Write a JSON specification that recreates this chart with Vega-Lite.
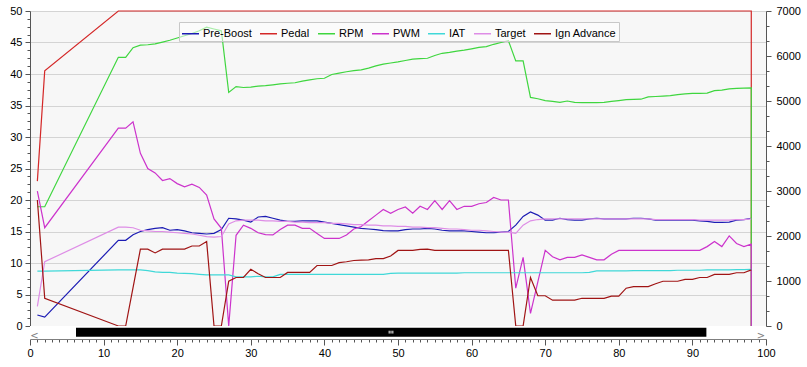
{
  "$schema": "https://vega.github.io/schema/vega-lite/v6.json",
  "width": 736,
  "height": 315,
  "autosize": {"type": "none"},
  "padding": {"left": 30, "top": 11, "right": 41, "bottom": 41},
  "background": "white",
  "config": {
    "view": {"fill": "#f7f7f7", "stroke": null},
    "font": "Liberation Sans",
    "axis": {"labelFont": "Liberation Sans", "labelFontSize": 11, "labelColor": "#000000", "domainColor": "#555555", "tickColor": "#555555", "labelOverlap": false, "labelBound": false, "labelFlush": false},
    "legend": {
      "orient": "none", "legendX": 149, "legendY": 11, "direction": "horizontal", "columns": 7,
      "symbolType": "stroke", "symbolSize": 289, "symbolStrokeWidth": 1.5,
      "labelFont": "Liberation Sans", "labelFontSize": 11, "labelColor": "#000000", "labelOffset": 3,
      "columnPadding": 5, "padding": 2, "fillColor": "rgba(255,255,255,0.55)", "strokeColor": "#c8c8c8", "cornerRadius": 0
    }
  },
  "data": {"values": [
    {"x":1,"Pre-Boost":1.75,"Pedal":23,"RPM":2650,"PWM":21.4,"IAT":8.7,"Target":3.1,"Ign Advance":20},
    {"x":2,"Pre-Boost":1.4,"Pedal":40.5,"RPM":2650,"PWM":15.6,"IAT":8.7,"Target":10.2,"Ign Advance":4.4},
    {"x":12,"Pre-Boost":13.6,"Pedal":50,"RPM":5970,"PWM":31.4,"IAT":8.9,"Target":15.7,"Ign Advance":0},
    {"x":13,"Pre-Boost":13.6,"Pedal":50,"RPM":5970,"PWM":31.4,"IAT":8.9,"Target":15.7,"Ign Advance":0},
    {"x":14,"Pre-Boost":14.5,"Pedal":50,"RPM":6185,"PWM":32.4,"IAT":8.9,"Target":15.6,"Ign Advance":6.1},
    {"x":15,"Pre-Boost":15.0,"Pedal":50,"RPM":6240,"PWM":27.4,"IAT":8.9,"Target":15.2,"Ign Advance":12.2},
    {"x":16,"Pre-Boost":15.3,"Pedal":50,"RPM":6250,"PWM":25.0,"IAT":8.8,"Target":15.1,"Ign Advance":12.2},
    {"x":17,"Pre-Boost":15.5,"Pedal":50,"RPM":6270,"PWM":24.3,"IAT":8.6,"Target":15.0,"Ign Advance":11.6},
    {"x":18,"Pre-Boost":15.6,"Pedal":50,"RPM":6310,"PWM":23.1,"IAT":8.5,"Target":15.0,"Ign Advance":12.2},
    {"x":19,"Pre-Boost":15.2,"Pedal":50,"RPM":6350,"PWM":23.4,"IAT":8.5,"Target":14.9,"Ign Advance":12.2},
    {"x":20,"Pre-Boost":15.3,"Pedal":50,"RPM":6400,"PWM":22.6,"IAT":8.4,"Target":14.8,"Ign Advance":12.2},
    {"x":21,"Pre-Boost":15.1,"Pedal":50,"RPM":6450,"PWM":22.1,"IAT":8.35,"Target":14.7,"Ign Advance":12.2},
    {"x":22,"Pre-Boost":14.8,"Pedal":50,"RPM":6500,"PWM":22.5,"IAT":8.3,"Target":14.6,"Ign Advance":12.7},
    {"x":23,"Pre-Boost":14.7,"Pedal":50,"RPM":6560,"PWM":22.0,"IAT":8.2,"Target":14.4,"Ign Advance":12.7},
    {"x":24,"Pre-Boost":14.6,"Pedal":50,"RPM":6640,"PWM":20.8,"IAT":8.1,"Target":14.2,"Ign Advance":13.4},
    {"x":25,"Pre-Boost":14.7,"Pedal":50,"RPM":6600,"PWM":17.0,"IAT":8.1,"Target":14.1,"Ign Advance":0},
    {"x":26,"Pre-Boost":15.3,"Pedal":50,"RPM":6560,"PWM":15.5,"IAT":8.1,"Target":14.2,"Ign Advance":0},
    {"x":27,"Pre-Boost":17.1,"Pedal":50,"RPM":5190,"PWM":0,"IAT":8.1,"Target":16.2,"Ign Advance":7.1},
    {"x":28,"Pre-Boost":17.0,"Pedal":50,"RPM":5320,"PWM":14.4,"IAT":7.8,"Target":16.7,"Ign Advance":7.7},
    {"x":29,"Pre-Boost":16.8,"Pedal":50,"RPM":5300,"PWM":16.0,"IAT":7.8,"Target":16.8,"Ign Advance":7.7},
    {"x":30,"Pre-Boost":16.5,"Pedal":50,"RPM":5310,"PWM":15.5,"IAT":7.8,"Target":16.8,"Ign Advance":9.0},
    {"x":31,"Pre-Boost":17.3,"Pedal":50,"RPM":5330,"PWM":14.8,"IAT":7.9,"Target":16.8,"Ign Advance":8.3},
    {"x":32,"Pre-Boost":17.4,"Pedal":50,"RPM":5340,"PWM":14.5,"IAT":7.8,"Target":16.7,"Ign Advance":7.7},
    {"x":33,"Pre-Boost":17.1,"Pedal":50,"RPM":5360,"PWM":14.45,"IAT":7.8,"Target":16.7,"Ign Advance":7.7},
    {"x":34,"Pre-Boost":16.8,"Pedal":50,"RPM":5380,"PWM":15.3,"IAT":8.2,"Target":16.6,"Ign Advance":7.7},
    {"x":35,"Pre-Boost":16.6,"Pedal":50,"RPM":5395,"PWM":16.0,"IAT":8.2,"Target":16.6,"Ign Advance":8.5},
    {"x":36,"Pre-Boost":16.6,"Pedal":50,"RPM":5405,"PWM":16.0,"IAT":8.2,"Target":16.5,"Ign Advance":8.5},
    {"x":37,"Pre-Boost":16.7,"Pedal":50,"RPM":5440,"PWM":15.5,"IAT":8.2,"Target":16.5,"Ign Advance":8.5},
    {"x":38,"Pre-Boost":16.7,"Pedal":50,"RPM":5470,"PWM":15.5,"IAT":8.2,"Target":16.4,"Ign Advance":8.5},
    {"x":39,"Pre-Boost":16.7,"Pedal":50,"RPM":5495,"PWM":14.7,"IAT":8.2,"Target":16.4,"Ign Advance":9.6},
    {"x":40,"Pre-Boost":16.5,"Pedal":50,"RPM":5505,"PWM":13.9,"IAT":8.2,"Target":16.4,"Ign Advance":9.6},
    {"x":41,"Pre-Boost":16.3,"Pedal":50,"RPM":5590,"PWM":13.9,"IAT":8.2,"Target":16.3,"Ign Advance":9.6},
    {"x":42,"Pre-Boost":16.1,"Pedal":50,"RPM":5620,"PWM":13.9,"IAT":8.2,"Target":16.3,"Ign Advance":10.05},
    {"x":43,"Pre-Boost":15.9,"Pedal":50,"RPM":5650,"PWM":14.45,"IAT":8.2,"Target":16.2,"Ign Advance":10.2},
    {"x":44,"Pre-Boost":15.7,"Pedal":50,"RPM":5675,"PWM":15.4,"IAT":8.2,"Target":16.1,"Ign Advance":10.4},
    {"x":45,"Pre-Boost":15.5,"Pedal":50,"RPM":5690,"PWM":15.8,"IAT":8.2,"Target":16.1,"Ign Advance":10.45},
    {"x":46,"Pre-Boost":15.4,"Pedal":50,"RPM":5730,"PWM":16.7,"IAT":8.2,"Target":16.0,"Ign Advance":10.5},
    {"x":47,"Pre-Boost":15.3,"Pedal":50,"RPM":5780,"PWM":17.6,"IAT":8.2,"Target":16.0,"Ign Advance":10.7},
    {"x":48,"Pre-Boost":15.15,"Pedal":50,"RPM":5820,"PWM":18.5,"IAT":8.2,"Target":15.9,"Ign Advance":10.7},
    {"x":49,"Pre-Boost":15.1,"Pedal":50,"RPM":5845,"PWM":17.9,"IAT":8.35,"Target":15.9,"Ign Advance":11.1},
    {"x":50,"Pre-Boost":15.1,"Pedal":50,"RPM":5870,"PWM":18.5,"IAT":8.4,"Target":15.8,"Ign Advance":12.0},
    {"x":51,"Pre-Boost":15.3,"Pedal":50,"RPM":5900,"PWM":18.9,"IAT":8.4,"Target":15.8,"Ign Advance":12.0},
    {"x":52,"Pre-Boost":15.4,"Pedal":50,"RPM":5930,"PWM":17.9,"IAT":8.4,"Target":15.7,"Ign Advance":12.0},
    {"x":53,"Pre-Boost":15.4,"Pedal":50,"RPM":5940,"PWM":19.0,"IAT":8.4,"Target":15.7,"Ign Advance":12.15},
    {"x":54,"Pre-Boost":15.5,"Pedal":50,"RPM":5950,"PWM":18.5,"IAT":8.4,"Target":15.6,"Ign Advance":12.2},
    {"x":55,"Pre-Boost":15.4,"Pedal":50,"RPM":6010,"PWM":19.9,"IAT":8.4,"Target":15.6,"Ign Advance":12.0},
    {"x":56,"Pre-Boost":15.2,"Pedal":50,"RPM":6060,"PWM":18.5,"IAT":8.4,"Target":15.5,"Ign Advance":12.0},
    {"x":57,"Pre-Boost":15.1,"Pedal":50,"RPM":6080,"PWM":19.9,"IAT":8.4,"Target":15.4,"Ign Advance":12.0},
    {"x":58,"Pre-Boost":15.1,"Pedal":50,"RPM":6110,"PWM":18.5,"IAT":8.4,"Target":15.4,"Ign Advance":12.0},
    {"x":59,"Pre-Boost":15.1,"Pedal":50,"RPM":6130,"PWM":19.0,"IAT":8.45,"Target":15.3,"Ign Advance":12.0},
    {"x":60,"Pre-Boost":15.0,"Pedal":50,"RPM":6160,"PWM":19.0,"IAT":8.45,"Target":15.2,"Ign Advance":12.0},
    {"x":61,"Pre-Boost":14.9,"Pedal":50,"RPM":6190,"PWM":19.4,"IAT":8.45,"Target":15.2,"Ign Advance":12.0},
    {"x":62,"Pre-Boost":14.8,"Pedal":50,"RPM":6210,"PWM":19.6,"IAT":8.45,"Target":15.1,"Ign Advance":12.0},
    {"x":63,"Pre-Boost":14.8,"Pedal":50,"RPM":6260,"PWM":20.4,"IAT":8.45,"Target":15.0,"Ign Advance":12.0},
    {"x":64,"Pre-Boost":14.9,"Pedal":50,"RPM":6300,"PWM":20.0,"IAT":8.45,"Target":14.9,"Ign Advance":12.0},
    {"x":65,"Pre-Boost":15.0,"Pedal":50,"RPM":6340,"PWM":20.0,"IAT":8.45,"Target":14.9,"Ign Advance":12.0},
    {"x":66,"Pre-Boost":16.0,"Pedal":50,"RPM":5890,"PWM":6.0,"IAT":8.45,"Target":14.7,"Ign Advance":0},
    {"x":67,"Pre-Boost":17.4,"Pedal":50,"RPM":5890,"PWM":10.9,"IAT":8.45,"Target":16.0,"Ign Advance":0},
    {"x":68,"Pre-Boost":18.1,"Pedal":50,"RPM":5080,"PWM":2.0,"IAT":8.45,"Target":16.7,"Ign Advance":7.7},
    {"x":69,"Pre-Boost":17.6,"Pedal":50,"RPM":5050,"PWM":7.0,"IAT":8.45,"Target":16.9,"Ign Advance":4.8},
    {"x":70,"Pre-Boost":16.8,"Pedal":50,"RPM":5010,"PWM":12.0,"IAT":8.45,"Target":17.0,"Ign Advance":4.8},
    {"x":71,"Pre-Boost":16.8,"Pedal":50,"RPM":4990,"PWM":11.0,"IAT":8.45,"Target":17.0,"Ign Advance":4.1},
    {"x":72,"Pre-Boost":17.1,"Pedal":50,"RPM":4970,"PWM":10.5,"IAT":8.45,"Target":17.0,"Ign Advance":4.1},
    {"x":73,"Pre-Boost":16.9,"Pedal":50,"RPM":5000,"PWM":10.9,"IAT":8.45,"Target":17.0,"Ign Advance":4.1},
    {"x":74,"Pre-Boost":16.8,"Pedal":50,"RPM":4970,"PWM":10.9,"IAT":8.45,"Target":17.0,"Ign Advance":4.1},
    {"x":75,"Pre-Boost":16.8,"Pedal":50,"RPM":4965,"PWM":11.3,"IAT":8.45,"Target":17.0,"Ign Advance":4.4},
    {"x":76,"Pre-Boost":17.0,"Pedal":50,"RPM":4965,"PWM":10.9,"IAT":8.5,"Target":17.0,"Ign Advance":4.4},
    {"x":77,"Pre-Boost":17.1,"Pedal":50,"RPM":4965,"PWM":10.5,"IAT":8.75,"Target":17.0,"Ign Advance":4.4},
    {"x":78,"Pre-Boost":17.0,"Pedal":50,"RPM":4970,"PWM":10.5,"IAT":8.75,"Target":17.0,"Ign Advance":4.4},
    {"x":79,"Pre-Boost":17.0,"Pedal":50,"RPM":4990,"PWM":11.4,"IAT":8.75,"Target":17.0,"Ign Advance":4.75},
    {"x":80,"Pre-Boost":17.0,"Pedal":50,"RPM":5010,"PWM":12.0,"IAT":8.75,"Target":17.0,"Ign Advance":4.75},
    {"x":81,"Pre-Boost":17.0,"Pedal":50,"RPM":5030,"PWM":12.0,"IAT":8.75,"Target":17.0,"Ign Advance":6.0},
    {"x":82,"Pre-Boost":17.1,"Pedal":50,"RPM":5035,"PWM":12.0,"IAT":8.8,"Target":17.0,"Ign Advance":6.25},
    {"x":83,"Pre-Boost":17.1,"Pedal":50,"RPM":5040,"PWM":12.0,"IAT":8.8,"Target":17.0,"Ign Advance":6.25},
    {"x":84,"Pre-Boost":17.0,"Pedal":50,"RPM":5090,"PWM":12.0,"IAT":8.8,"Target":17.0,"Ign Advance":6.25},
    {"x":85,"Pre-Boost":16.8,"Pedal":50,"RPM":5100,"PWM":12.0,"IAT":8.8,"Target":16.9,"Ign Advance":6.7},
    {"x":86,"Pre-Boost":16.8,"Pedal":50,"RPM":5110,"PWM":12.0,"IAT":8.8,"Target":16.9,"Ign Advance":7.1},
    {"x":87,"Pre-Boost":16.8,"Pedal":50,"RPM":5120,"PWM":12.0,"IAT":8.8,"Target":16.9,"Ign Advance":7.1},
    {"x":88,"Pre-Boost":16.8,"Pedal":50,"RPM":5140,"PWM":12.0,"IAT":8.85,"Target":16.9,"Ign Advance":7.1},
    {"x":89,"Pre-Boost":16.8,"Pedal":50,"RPM":5160,"PWM":12.0,"IAT":8.85,"Target":16.9,"Ign Advance":7.4},
    {"x":90,"Pre-Boost":16.8,"Pedal":50,"RPM":5170,"PWM":12.0,"IAT":8.85,"Target":16.9,"Ign Advance":7.4},
    {"x":91,"Pre-Boost":16.7,"Pedal":50,"RPM":5170,"PWM":12.0,"IAT":8.85,"Target":16.8,"Ign Advance":7.7},
    {"x":92,"Pre-Boost":16.6,"Pedal":50,"RPM":5175,"PWM":12.6,"IAT":8.9,"Target":16.8,"Ign Advance":7.7},
    {"x":93,"Pre-Boost":16.45,"Pedal":50,"RPM":5230,"PWM":13.4,"IAT":8.9,"Target":16.8,"Ign Advance":8.2},
    {"x":94,"Pre-Boost":16.45,"Pedal":50,"RPM":5240,"PWM":12.6,"IAT":8.9,"Target":16.8,"Ign Advance":8.2},
    {"x":95,"Pre-Boost":16.5,"Pedal":50,"RPM":5270,"PWM":14.3,"IAT":8.9,"Target":16.8,"Ign Advance":8.2},
    {"x":96,"Pre-Boost":16.8,"Pedal":50,"RPM":5280,"PWM":13.1,"IAT":8.95,"Target":16.9,"Ign Advance":8.45},
    {"x":97,"Pre-Boost":16.9,"Pedal":50,"RPM":5285,"PWM":12.6,"IAT":8.95,"Target":16.9,"Ign Advance":8.45},
    {"x":98,"Pre-Boost":17.1,"Pedal":50,"RPM":5290,"PWM":13.0,"IAT":9.0,"Target":17.0,"Ign Advance":8.9},
    {"x":98,"Pedal":0,"RPM":0,"PWM":0}
  ]},
  "transform": [
    {"fold": ["Pre-Boost","Pedal","RPM","PWM","IAT","Target","Ign Advance"], "as": ["k","v"]},
    {"filter": "isValid(datum.v)"}
  ],
  "encoding": {
    "x": {"field": "x", "type": "quantitative", "title": null, "scale": {"domain": [0,100], "nice": false},
      "axis": {"orient": "bottom", "offset": 13, "grid": false, "labelOverlap": false, "labelFlush": false, "labelBound": false,
        "values": [0,1,2,3,4,5,6,7,8,9,10,11,12,13,14,15,16,17,18,19,20,21,22,23,24,25,26,27,28,29,30,31,32,33,34,35,36,37,38,39,40,41,42,43,44,45,46,47,48,49,50,51,52,53,54,55,56,57,58,59,60,61,62,63,64,65,66,67,68,69,70,71,72,73,74,75,76,77,78,79,80,81,82,83,84,85,86,87,88,89,90,91,92,93,94,95,96,97,98,99,100],
        "labelExpr": "datum.value % 10 === 0 ? datum.label : ''",
        "tickSize": {"condition": {"test": "datum.value % 10 === 0", "value": 6}, "value": 3},
        "labelPadding": 2}}
  },
  "layer": [
    {
      "transform": [{"filter": "datum.k === 'Pre-Boost' || datum.k === 'Pedal'"}],
      "mark": {"type": "line", "strokeWidth": 1.2},
      "encoding": {
        "y": {"field": "v", "type": "quantitative", "title": null, "scale": {"domain": [0,50], "nice": false, "zero": false},
          "axis": {"orient": "left", "grid": true, "gridColor": "#d4d4d4", "labelOverlap": false,
            "values": [0,1.25,2.5,3.75,5,6.25,7.5,8.75,10,11.25,12.5,13.75,15,16.25,17.5,18.75,20,21.25,22.5,23.75,25,26.25,27.5,28.75,30,31.25,32.5,33.75,35,36.25,37.5,38.75,40,41.25,42.5,43.75,45,46.25,47.5,48.75,50],
            "labelExpr": "datum.value % 5 === 0 ? datum.label : ''",
            "gridOpacity": {"condition": {"test": "datum.value % 5 === 0", "value": 1}, "value": 0},
            "tickSize": {"condition": {"test": "datum.value % 5 === 0", "value": 5}, "value": 3},
            "labelPadding": 3}},
        "color": {"field": "k", "type": "nominal", "title": null,
          "scale": {"domain": ["Pre-Boost","Pedal","RPM","PWM","IAT","Target","Ign Advance"], "range": ["#1c1cb4","#d42828","#3fd63f","#cc33cc","#40d8d8","#de8de6","#a01414"]}}
      }
    },
    {
      "transform": [{"filter": "datum.k === 'RPM'"}],
      "mark": {"type": "line", "strokeWidth": 1.2},
      "encoding": {
        "y": {"field": "v", "type": "quantitative", "title": null, "scale": {"domain": [0,7000], "nice": false, "zero": false},
          "axis": {"orient": "right", "grid": false, "format": "d", "labelOverlap": false,
            "values": [0,333.333,666.667,1000,1333.333,1666.667,2000,2333.333,2666.667,3000,3333.333,3666.667,4000,4333.333,4666.667,5000,5333.333,5666.667,6000,6333.333,6666.667,7000],
            "labelExpr": "abs(datum.value/1000 - round(datum.value/1000)) < 0.001 ? format(datum.value, 'd') : ''",
            "tickSize": {"condition": {"test": "abs(datum.value/1000 - round(datum.value/1000)) < 0.001", "value": 5}, "value": 3},
            "labelPadding": 5}},
        "color": {"field": "k", "type": "nominal", "title": null,
          "scale": {"domain": ["Pre-Boost","Pedal","RPM","PWM","IAT","Target","Ign Advance"], "range": ["#1c1cb4","#d42828","#3fd63f","#cc33cc","#40d8d8","#de8de6","#a01414"]}}
      }
    },
    {
      "transform": [{"filter": "datum.k === 'PWM' || datum.k === 'IAT' || datum.k === 'Target' || datum.k === 'Ign Advance'"}],
      "mark": {"type": "line", "strokeWidth": 1.2},
      "encoding": {
        "y": {"field": "v", "type": "quantitative", "title": null, "scale": {"domain": [0,50], "nice": false, "zero": false}, "axis": null},
        "color": {"field": "k", "type": "nominal", "title": null,
          "scale": {"domain": ["Pre-Boost","Pedal","RPM","PWM","IAT","Target","Ign Advance"], "range": ["#1c1cb4","#d42828","#3fd63f","#cc33cc","#40d8d8","#de8de6","#a01414"]}}
      }
    },
    {
      "data": {"values": [{"x": 0, "xe": 100, "c": 0, "d": -2.1}]},
      "mark": {"type": "rect", "fill": "#ffffff", "clip": false},
      "encoding": {
        "x2": {"field": "xe"},
        "y": {"field": "c", "type": "quantitative", "title": null, "scale": {"domain": [0,50], "nice": false, "zero": false}, "axis": null},
        "y2": {"field": "d"}
      }
    },
    {
      "data": {"values": [{"x": 6.25, "xe": 91.9, "c": -0.27, "d": -1.7}]},
      "mark": {"type": "rect", "fill": "#000000", "clip": false},
      "encoding": {
        "x2": {"field": "xe"},
        "y": {"field": "c", "type": "quantitative", "title": null, "scale": {"domain": [0,50], "nice": false, "zero": false}, "axis": null},
        "y2": {"field": "d"}
      }
    },
    {
      "data": {"values": [{"x": 48.8, "c": -0.75, "d": -1.2}, {"x": 49.05, "c": -0.75, "d": -1.2}, {"x": 49.3, "c": -0.75, "d": -1.2}]},
      "mark": {"type": "rule", "color": "#ffffff", "strokeWidth": 1, "clip": false},
      "encoding": {
        "y": {"field": "c", "type": "quantitative", "title": null, "scale": {"domain": [0,50], "nice": false, "zero": false}, "axis": null},
        "y2": {"field": "d"}
      }
    },
    {
      "data": {"values": [{"x": 0.6, "c": -1.55, "t": "<"}, {"x": 99.3, "c": -1.55, "t": ">"}]},
      "mark": {"type": "text", "clip": false, "font": "DejaVu Sans", "fontSize": 10, "baseline": "middle", "align": "center", "color": "#808080"},
      "encoding": {
        "y": {"field": "c", "type": "quantitative", "title": null, "scale": {"domain": [0,50], "nice": false, "zero": false}, "axis": null},
        "text": {"field": "t"}
      }
    }
  ],
  "resolve": {"scale": {"y": "independent"}}
}
